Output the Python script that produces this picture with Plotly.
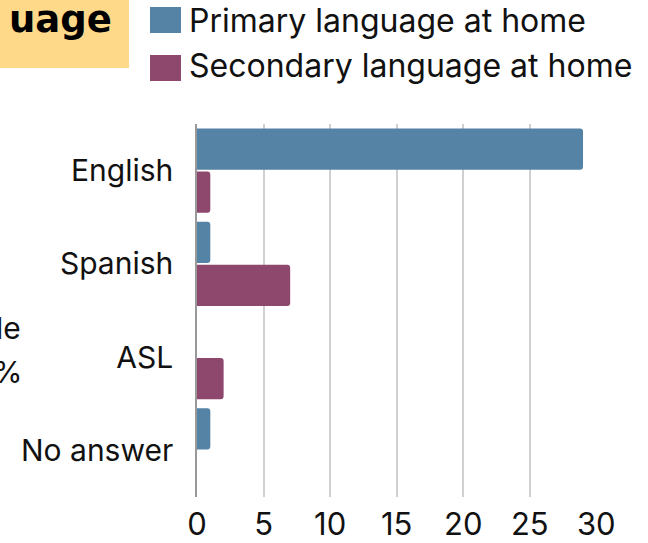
import plotly.graph_objects as go

categories = ["English", "Spanish", "ASL", "No answer"]
primary = [29, 1, 0, 1]
secondary = [1, 7, 2, 0]
series_names = ["Primary language at home", "Secondary language at home"]
x_ticks = [0, 5, 10, 15, 20, 25, 30]

BLUE = "#5583a5"
PURPLE = "#8e486e"
FONT = "Inter"

W, H = 648, 543
L, R, T, B = 197, 51, 124, 46
PW, PH = W - L - R, H - T - B

fig = go.Figure()
fig.add_trace(go.Bar(y=categories, x=primary, orientation="h", name=series_names[0],
                     marker=dict(color=BLUE, cornerradius=3, line=dict(width=0)),
                     showlegend=False))
fig.add_trace(go.Bar(y=categories, x=secondary, orientation="h", name=series_names[1],
                     marker=dict(color=PURPLE, cornerradius=3, line=dict(width=0)),
                     showlegend=False))


def px_x(p):
    return (p - L) / PW


def px_y(p):
    return (H - B - p) / PH


shapes = [
    dict(type="rect", xref="paper", yref="paper", x0=px_x(-20), x1=px_x(129),
         y0=px_y(68), y1=px_y(-20), fillcolor="#ffd98a", line=dict(width=0), layer="below"),
    dict(type="rect", xref="paper", yref="paper", x0=px_x(150), x1=px_x(181),
         y0=px_y(33), y1=px_y(7), fillcolor=BLUE, line=dict(width=0)),
    dict(type="rect", xref="paper", yref="paper", x0=px_x(150), x1=px_x(181),
         y0=px_y(81), y1=px_y(55), fillcolor=PURPLE, line=dict(width=0)),
]

annotations = [
    dict(text="<b>uage</b>", xref="paper", yref="paper", x=px_x(113), y=px_y(19),
         xanchor="right", yanchor="middle", showarrow=False, borderpad=0,
         font=dict(family="DejaVu Sans", size=37, color="#000000")),
    dict(text=series_names[0], xref="paper", yref="paper", x=px_x(187), y=px_y(20),
         xanchor="left", yanchor="middle", showarrow=False,
         font=dict(family=FONT, size=32, color="#111111")),
    dict(text=series_names[1], xref="paper", yref="paper", x=px_x(187), y=px_y(66),
         xanchor="left", yanchor="middle", showarrow=False,
         font=dict(family=FONT, size=32, color="#111111")),
    dict(text="le", xref="paper", yref="paper", x=px_x(23), y=px_y(328),
         xanchor="right", yanchor="middle", showarrow=False,
         font=dict(family=FONT, size=30, color="#111111")),
    dict(text="%", xref="paper", yref="paper", x=px_x(24), y=px_y(372),
         xanchor="right", yanchor="middle", showarrow=False,
         font=dict(family=FONT, size=30, color="#111111")),
]

fig.update_layout(
    width=W, height=H,
    margin=dict(l=L, r=R, t=T, b=B, pad=0, autoexpand=False),
    paper_bgcolor="white", plot_bgcolor="white",
    barmode="group", bargap=0.08, bargroupgap=0.04,
    font=dict(family=FONT, color="#111111"),
    shapes=shapes, annotations=annotations,
    xaxis=dict(range=[0, 30.05], tickvals=x_ticks, ticktext=[str(v) for v in x_ticks],
               showgrid=True, gridcolor="#d0d0d0", gridwidth=1.5, zeroline=False,
               showline=False, tickfont=dict(size=31, color="#111111"), ticks="",
               ticklabelstandoff=6, automargin=False),
    yaxis=dict(autorange="reversed", categoryorder="array", categoryarray=categories,
               showgrid=False, showline=True, linecolor="#999999", linewidth=1.5,
               ticks="", tickfont=dict(size=30, color="#111111"), ticklabelstandoff=16,
               automargin=False),
)

fig.write_html("out.html", config={"displayModeBar": False},
               post_script="document.body.style.margin='0';document.body.style.overflow='hidden';")
